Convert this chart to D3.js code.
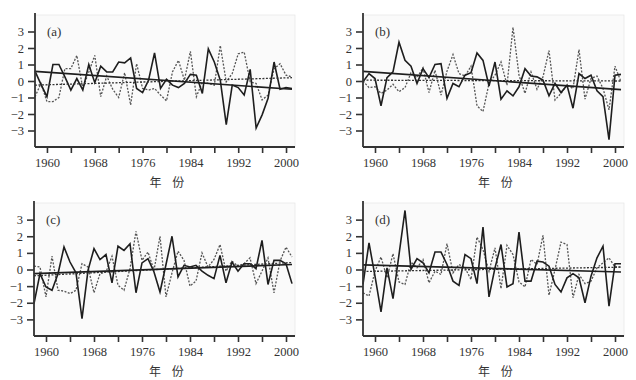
<!DOCTYPE html>
<html>
<head>
<meta charset="utf-8">
<script src="https://cdn.jsdelivr.net/npm/d3@7"></script>
<style>
  body { margin: 0; background: #fff; }
  svg { display: block; }
</style>
</head>
<body>
<div id="chart"></div>
<script>
// Jahre 1958-2001
const years = d3.range(1958, 2002);
const yTicks = [-3, -2, -1, 0, 1, 2, 3];
const xTicks = d3.range(1960, 2001, 4);
const xLabels = [1960, 1968, 1976, 1984, 1992, 2000];
const panelNames = ["(a)", "(b)", "(c)", "(d)"];

// Reihen (durchgezogen / gepunktet)
const aSolid = [0.6, -0.2, -0.95, 1.0, 1.0, 0.25, -0.55, 0.15, -0.55, 1.0, -0.1, 0.9, 0.55, 0.55, 1.15, 1.1, 1.4, -0.45, -0.7, 0.05, 1.7, -0.45, 0.1, -0.25, -0.4, -0.15, 0.4, 0.35, -0.75, 1.95, 1.15, 0.05, -2.65, -0.25, -0.4, -0.85, 0.7, -2.85, -2.05, -1.05, 1.15, -0.5, -0.4, -0.45];
const aDotted = [-0.95, -0.15, -1.25, -1.25, -1.0, 0.75, 0.75, 1.55, -0.45, 0.55, 1.55, -0.95, 0.3, -0.5, -1.0, 0.5, -1.45, 1.05, -0.45, -0.55, -0.45, -0.85, -1.2, 0.55, 1.25, 0.05, 1.8, -0.95, -0.05, -0.15, -0.25, 2.15, -0.05, 0.45, 1.65, 1.75, -0.05, -0.15, -1.15, -0.85, 0.75, 1.05, 0.35, 0.25];
const bSolid = [-0.05, 0.45, 0.15, -1.5, 0.2, 0.55, 2.35, 1.25, 0.9, -0.15, 0.75, 0.2, 1.0, 1.05, -1.05, -0.15, -0.35, 0.35, 0.5, 1.7, 1.25, -0.3, 1.15, -1.1, -0.6, -0.9, -0.35, 0.75, 0.3, 0.25, 0.05, -0.9, -0.15, -0.7, -0.25, -1.65, 0.45, 0.15, 0.35, -0.6, -0.95, -3.55, 0.35, 0.4];
const bDotted = [0.0, -0.4, -0.35, -0.75, -0.55, -0.2, -0.65, -0.4, 0.5, 0.2, 0.8, -0.7, 0.65, -0.85, 0.6, 1.6, 0.45, 0.3, 0.9, -1.5, -1.85, -0.15, 0.35, 1.15, -0.25, 3.25, 0.35, -0.75, 0.55, -0.5, 0.25, 1.85, -1.15, -0.75, -0.25, -0.45, 1.9, -1.1, 0.15, 0.3, -0.45, -1.75, 0.9, -0.05];
const cSolid = [-2.05, -0.25, -1.05, -1.25, -0.25, 1.35, 0.45, -0.2, -2.95, -0.05, 1.25, 0.6, 0.9, -0.8, 1.4, 1.15, 1.55, -1.4, 0.4, 0.65, -0.15, -1.35, 0.3, 2.0, -0.45, 0.25, 0.15, 0.25, -0.1, -0.35, -0.55, 0.85, -0.8, 0.45, -0.1, 0.35, 0.35, 0.05, 1.75, -0.9, 0.55, 0.55, 0.35, -0.85];
const cDotted = [0.2, 0.15, -1.65, 0.8, -1.25, -1.3, -1.45, -1.25, 0.35, 0.15, -1.4, -0.25, -0.15, 0.8, -0.95, -1.25, 0.05, 2.3, 0.55, 1.05, -0.05, 2.0, -1.65, -0.2, 1.1, 0.55, -1.0, -0.7, 1.0, 0.15, 0.6, 1.5, -0.1, 0.5, 0.2, 0.35, 0.7, -0.85, -0.1, 0.7, -1.4, 0.5, 1.35, 0.75];
const dSolid = [-0.9, 1.6, -0.4, -2.55, 0.1, -1.75, 0.9, 3.55, 0.0, 0.65, 0.4, -0.2, 1.05, 1.05, 0.3, -0.7, -0.95, 0.9, 0.65, -0.85, 2.55, -1.65, 0.1, 1.5, -1.05, -0.85, 2.25, -0.7, -0.7, 0.5, 0.45, 0.2, -0.9, -1.35, -0.5, -0.25, -0.5, -2.0, -0.4, 0.7, 1.4, -2.2, 0.35, 0.35];
const dDotted = [-1.4, -1.6, -0.1, 0.75, -0.5, 0.95, -0.75, -0.9, 0.45, 0.1, 0.6, -0.8, -0.1, -0.3, 1.55, -0.2, 0.3, 0.1, -0.6, 1.95, 1.2, -0.1, 1.3, -1.15, 1.45, 0.9, -0.75, -1.05, 0.6, 0.3, 2.05, -1.55, 0.0, 1.65, 1.5, -1.7, -0.3, -0.85, -0.7, 0.1, 0.4, 0.7, 0.15, 0.15];

// Trendlinien: Wert 1958 und Wert 2001
const solidTrends = [[0.58, -0.5], [0.58, -0.52], [-0.25, 0.3], [0.28, -0.15]];
const dottedTrends = [[-0.25, 0.2], [0.05, 0.0], [-0.38, 0.42], [-0.12, 0.14]];

const solidSeries = [aSolid, bSolid, cSolid, dSolid];
const dottedSeries = [aDotted, bDotted, cDotted, dDotted];

const serif = "Liberation Serif, DejaVu Serif, serif";

// Position der Teilbilder
const frames = [
  { left: 35, top: 15, right: 295, bottom: 147 },
  { left: 363, top: 15, right: 624, bottom: 147 },
  { left: 34, top: 203, right: 295, bottom: 336 },
  { left: 363, top: 203, right: 624, bottom: 336 }
];

const svg = d3.select("#chart")
  .append("svg")
  .attr("width", 636)
  .attr("height", 380);

frames.forEach((f, i) => {
  const g = svg.append("g");

  const x = d3.scaleLinear().domain([1958, 2001]).range([f.left, f.right - 3]);
  const y = d3.scaleLinear().domain([-4, 4]).range([f.bottom, f.top]);

  // Hintergrund
  g.append("rect")
    .attr("x", f.left)
    .attr("y", f.top)
    .attr("width", f.right - f.left)
    .attr("height", f.bottom - f.top)
    .attr("fill", "#fafafa")
    .attr("stroke", "#e8e8e8")
    .attr("stroke-width", 0.8);

  const line = d3.line()
    .x((d, k) => x(years[k]))
    .y(d => y(d));

  // gepunktete Reihe
  g.append("path")
    .datum(dottedSeries[i])
    .attr("d", line)
    .attr("fill", "none")
    .attr("stroke", "#555")
    .attr("stroke-width", 1.3)
    .attr("stroke-dasharray", "2,1.5");

  // durchgezogene Reihe
  g.append("path")
    .datum(solidSeries[i])
    .attr("d", line)
    .attr("fill", "none")
    .attr("stroke", "#1e1e1e")
    .attr("stroke-width", 1.6);

  // Trends
  const trendLine = d3.line()
    .x((d, k) => x(k === 0 ? 1958 : 2001))
    .y(d => y(d));

  g.append("path")
    .datum(dottedTrends[i])
    .attr("d", trendLine)
    .attr("fill", "none")
    .attr("stroke", "#333")
    .attr("stroke-width", 1.3)
    .attr("stroke-dasharray", "2,1.5");

  g.append("path")
    .datum(solidTrends[i])
    .attr("d", trendLine)
    .attr("fill", "none")
    .attr("stroke", "#1e1e1e")
    .attr("stroke-width", 1.7);

  // Achsen
  const yAxis = d3.axisLeft(y)
    .tickValues(yTicks)
    .tickSize(7)
    .tickPadding(4)
    .tickFormat(d3.format("d"));

  const yg = g.append("g")
    .attr("transform", `translate(${f.left},0)`)
    .call(yAxis);

  const xAxis = d3.axisBottom(x)
    .tickValues(xTicks)
    .tickSize(6)
    .tickPadding(5)
    .tickFormat(d => xLabels.includes(d) ? d : "");

  const xg = g.append("g")
    .attr("transform", `translate(0,${f.bottom})`)
    .call(xAxis);

  [yg, xg].forEach(ax => {
    ax.attr("font-family", serif).attr("font-size", 12.5);
    ax.select(".domain").remove();
    ax.selectAll(".tick line").attr("stroke", "#333").attr("stroke-width", 1.6);
    ax.selectAll(".tick text").attr("fill", "#333");
  });

  // Achsenlinien
  g.append("line")
    .attr("x1", f.left).attr("x2", f.left)
    .attr("y1", f.top - 2).attr("y2", f.bottom)
    .attr("stroke", "#333").attr("stroke-width", 1.8);
  g.append("line")
    .attr("x1", f.left).attr("x2", f.right)
    .attr("y1", f.bottom).attr("y2", f.bottom)
    .attr("stroke", "#333").attr("stroke-width", 1.8);

  // Teilbildname
  g.append("text")
    .attr("x", f.left + 12)
    .attr("y", f.top + 21)
    .attr("font-family", serif)
    .attr("font-size", 13)
    .attr("fill", "#333")
    .text(panelNames[i]);

  // Achsentitel
  g.append("text")
    .attr("x", (f.left + f.right) / 2 + 2)
    .attr("y", f.bottom + 40)
    .attr("text-anchor", "middle")
    .attr("font-family", "Noto Sans CJK SC, sans-serif")
    .attr("font-size", 12)
    .attr("fill", "#333")
    .style("white-space", "pre")
    .text("年    份");
});
</script>
</body>
</html>
